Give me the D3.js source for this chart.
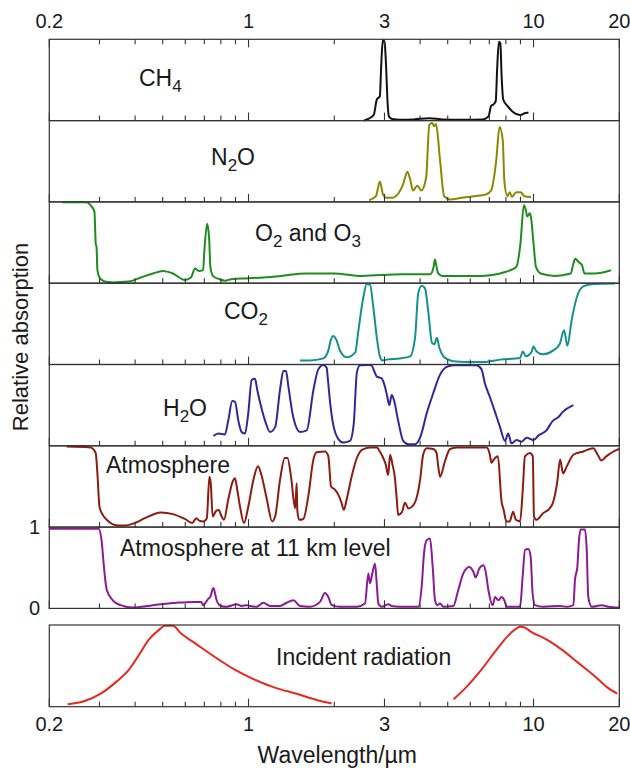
<!DOCTYPE html>
<html>
<head>
<meta charset="utf-8">
<script src="https://cdn.jsdelivr.net/npm/d3@7"></script>
<style>
body { margin: 0; background: #fff; }
text { font-family: "Liberation Sans", Arial, Helvetica, sans-serif; fill: #1a1a1a; }
</style>
</head>
<body>
<svg id="chart"></svg>
<script>
// wavelength (um) and relative absorption (0..1 inside each panel)
const ch4 = [[2.54,0],[2.75,0.07],[2.82,0.26],[2.89,0.30],[2.92,0.66],[2.96,0.99],[3.0,0.97],[3.04,0.66],[3.07,0.28],[3.11,0.05],[3.19,0.02],[3.4,0.01],[3.8,0.015],[4.31,0.03],[4.8,0.015],[5.6,0.01],[6.62,0.015],[6.95,0.05],[7.1,0.18],[7.24,0.2],[7.37,0.24],[7.46,0.66],[7.56,0.97],[7.65,0.95],[7.73,0.54],[7.83,0.26],[8.1,0.18],[8.6,0.09],[9.0,0.07],[9.3,0.09],[9.6,0.1]];

const n2o = [[2.65,0.02],[2.80,0.07],[2.89,0.25],[2.96,0.10],[3.04,0.05],[3.19,0.05],[3.35,0.10],[3.49,0.22],[3.61,0.37],[3.69,0.28],[3.78,0.14],[3.91,0.20],[4.04,0.14],[4.2,0.30],[4.31,0.95],[4.41,0.97],[4.48,0.93],[4.55,0.96],[4.7,0.51],[4.86,0.07],[5.1,0.03],[5.6,0.05],[6.2,0.07],[6.8,0.09],[7.1,0.14],[7.4,0.51],[7.6,0.92],[7.8,0.76],[7.9,0.26],[8.1,0.07],[8.25,0.12],[8.4,0.06],[8.7,0.12],[9.0,0.12],[9.3,0.07],[9.8,0.06]];

const o2o3 = [[0.222,0.995],[0.27,0.995],[0.279,0.96],[0.288,0.88],[0.291,0.49],[0.293,0.44],[0.295,0.16],[0.30,0.07],[0.313,0.02],[0.334,0.01],[0.38,0.02],[0.419,0.07],[0.462,0.12],[0.50,0.15],[0.543,0.12],[0.598,0.04],[0.628,0.07],[0.649,0.18],[0.67,0.15],[0.693,0.16],[0.70,0.40],[0.716,0.73],[0.727,0.57],[0.735,0.20],[0.75,0.09],[0.789,0.05],[0.829,0.03],[0.87,0.05],[1.0,0.06],[1.3,0.09],[1.59,0.12],[1.99,0.12],[2.5,0.09],[3.46,0.11],[4.34,0.11],[4.46,0.20],[4.51,0.29],[4.57,0.20],[4.63,0.12],[4.78,0.09],[6.6,0.09],[8.0,0.14],[8.7,0.20],[9.0,0.49],[9.25,0.96],[9.4,0.90],[9.5,0.82],[9.7,0.86],[9.8,0.81],[10.0,0.49],[10.2,0.20],[10.6,0.12],[11.9,0.09],[13.5,0.12],[13.8,0.24],[14.0,0.30],[14.4,0.26],[14.8,0.22],[15.1,0.12],[16.4,0.12],[18.7,0.16]];

const co2 = [[1.516,0.05],[1.643,0.05],[1.83,0.075],[1.905,0.17],[1.944,0.30],[1.98,0.35],[2.03,0.31],[2.095,0.17],[2.21,0.09],[2.37,0.15],[2.43,0.42],[2.53,0.83],[2.60,0.99],[2.67,0.98],[2.74,0.71],[2.82,0.33],[2.89,0.10],[2.95,0.05],[3.05,0.06],[3.40,0.075],[3.69,0.10],[3.84,0.33],[3.94,0.875],[4.05,0.97],[4.16,0.94],[4.28,0.63],[4.4,0.27],[4.49,0.25],[4.58,0.33],[4.67,0.21],[4.83,0.10],[5.03,0.06],[5.24,0.04],[5.83,0.03],[6.66,0.03],[7.63,0.06],[8.97,0.08],[9.17,0.16],[9.4,0.10],[9.83,0.15],[10.0,0.22],[10.25,0.16],[10.8,0.125],[11.7,0.17],[12.35,0.25],[12.8,0.42],[13.15,0.23],[13.6,0.54],[14.2,0.83],[14.95,0.96],[16.2,0.99],[19.3,0.995]];

const h2o = [[0.753,0.12],[0.784,0.15],[0.827,0.14],[0.849,0.31],[0.877,0.55],[0.897,0.54],[0.921,0.31],[0.946,0.17],[0.972,0.15],[0.998,0.40],[1.026,0.81],[1.054,0.825],[1.073,0.69],[1.097,0.54],[1.143,0.31],[1.19,0.17],[1.24,0.23],[1.29,0.69],[1.325,0.92],[1.354,0.92],[1.38,0.73],[1.436,0.35],[1.516,0.17],[1.6,0.19],[1.69,0.69],[1.757,0.94],[1.83,0.995],[1.88,0.96],[1.9,0.81],[1.93,0.56],[1.98,0.27],[2.07,0.08],[2.15,0.04],[2.27,0.06],[2.34,0.27],[2.4,0.90],[2.46,0.99],[2.63,0.995],[2.7,0.99],[2.76,0.92],[2.82,0.85],[2.93,0.83],[3.01,0.73],[3.07,0.60],[3.12,0.50],[3.18,0.625],[3.24,0.56],[3.35,0.31],[3.49,0.06],[3.63,0.02],[3.84,0.02],[4.0,0.10],[4.22,0.40],[4.45,0.65],[4.7,0.875],[4.96,0.97],[5.24,0.99],[6.31,0.99],[6.57,0.94],[6.75,0.77],[7.03,0.60],[7.32,0.42],[7.63,0.23],[7.94,0.06],[8.15,0.15],[8.37,0.03],[8.72,0.07],[9.09,0.05],[9.46,0.10],[10.0,0.07],[10.4,0.125],[11.1,0.19],[11.7,0.31],[12.2,0.35],[12.7,0.42],[13.8,0.50]];

const atmosphere = [[0.23,0.99],[0.279,0.98],[0.291,0.91],[0.295,0.66],[0.30,0.25],[0.308,0.15],[0.323,0.07],[0.35,0.02],[0.368,0.02],[0.399,0.05],[0.433,0.11],[0.493,0.18],[0.543,0.16],[0.598,0.10],[0.635,0.05],[0.656,0.11],[0.671,0.08],[0.694,0.07],[0.714,0.11],[0.729,0.62],[0.737,0.54],[0.749,0.13],[0.77,0.20],[0.786,0.21],[0.805,0.13],[0.82,0.09],[0.849,0.34],[0.88,0.56],[0.897,0.60],[0.913,0.46],[0.934,0.25],[0.964,0.05],[0.998,0.25],[1.04,0.58],[1.08,0.75],[1.11,0.64],[1.16,0.34],[1.21,0.07],[1.24,0.13],[1.29,0.58],[1.34,0.85],[1.37,0.85],[1.41,0.62],[1.457,0.23],[1.476,0.54],[1.483,0.21],[1.507,0.09],[1.557,0.10],[1.621,0.38],[1.689,0.83],[1.735,0.92],[1.855,0.93],[1.906,0.87],[1.948,0.50],[2.01,0.46],[2.065,0.40],[2.12,0.30],[2.16,0.21],[2.21,0.34],[2.30,0.62],[2.40,0.85],[2.5,0.95],[2.67,0.98],[2.82,0.98],[2.89,0.93],[2.97,0.85],[3.03,0.77],[3.09,0.64],[3.14,0.89],[3.2,0.77],[3.26,0.62],[3.31,0.36],[3.35,0.15],[3.45,0.18],[3.54,0.30],[3.64,0.23],[3.79,0.27],[3.89,0.36],[4.0,0.58],[4.1,0.89],[4.22,0.97],[4.45,0.96],[4.57,0.91],[4.63,0.75],[4.70,0.62],[4.89,0.81],[5.09,0.96],[5.36,0.98],[6.85,0.98],[7.03,0.89],[7.12,0.79],[7.25,0.83],[7.5,0.87],[7.72,0.32],[7.86,0.21],[8.03,0.07],[8.25,0.07],[8.48,0.19],[8.67,0.09],[8.97,0.07],[9.17,0.46],[9.33,0.87],[9.72,0.91],[9.94,0.87],[10.04,0.13],[10.25,0.09],[10.8,0.17],[11.4,0.23],[11.7,0.30],[12.1,0.54],[12.4,0.83],[12.7,0.66],[13.1,0.75],[13.8,0.89],[14.95,0.93],[16.2,0.97],[16.8,0.89],[17.3,0.82],[18.0,0.87],[19.6,0.95],[20,0.96]];

const atmosphere11km = [[0.2,0.98],[0.298,0.98],[0.305,0.84],[0.311,0.51],[0.318,0.23],[0.334,0.10],[0.356,0.04],[0.393,0.01],[0.462,0.04],[0.561,0.07],[0.639,0.08],[0.682,0.08],[0.694,0.04],[0.723,0.12],[0.734,0.14],[0.753,0.25],[0.773,0.10],[0.799,0.03],[0.838,0.02],[0.909,0.05],[0.946,0.03],[0.985,0.04],[1.012,0.03],[1.068,0.02],[1.127,0.07],[1.19,0.03],[1.29,0.03],[1.361,0.07],[1.436,0.10],[1.516,0.03],[1.643,0.02],[1.782,0.08],[1.855,0.19],[1.906,0.14],[1.958,0.04],[2.095,0.02],[2.396,0.02],[2.563,0.06],[2.633,0.43],[2.669,0.31],[2.727,0.45],[2.779,0.55],[2.817,0.31],[2.855,0.06],[2.933,0.02],[3.095,0.05],[3.18,0.03],[3.401,0.02],[3.944,0.02],[4.052,0.27],[4.129,0.68],[4.219,0.84],[4.334,0.86],[4.429,0.51],[4.513,0.10],[4.599,0.04],[4.698,0.06],[4.827,0.02],[5.233,0.03],[5.448,0.23],[5.672,0.43],[5.955,0.51],[6.151,0.45],[6.268,0.38],[6.454,0.49],[6.668,0.53],[6.795,0.45],[6.942,0.23],[7.193,0.04],[7.33,0.14],[7.53,0.10],[7.73,0.14],[7.90,0.10],[8.05,0.02],[8.97,0.02],[9.16,0.39],[9.34,0.72],[9.59,0.73],[9.77,0.64],[9.93,0.18],[10.12,0.04],[10.83,0.02],[12.39,0.03],[13.07,0.02],[13.8,0.04],[13.98,0.35],[14.25,0.51],[14.44,0.84],[14.64,0.97],[15.16,0.97],[15.37,0.72],[15.57,0.14],[16.0,0.02],[17.35,0.04],[18.31,0.02],[20,0.01]];

// incident radiation: solar band and terrestrial band
const incidentSun = [[0.232,0.03],[0.266,0.07],[0.303,0.16],[0.345,0.31],[0.380,0.45],[0.412,0.63],[0.447,0.82],[0.485,0.94],[0.509,0.99],[0.543,0.99],[0.579,0.90],[0.66,0.76],[0.776,0.59],[0.898,0.45],[1.023,0.35],[1.223,0.24],[1.486,0.155],[1.748,0.08],[1.958,0.04]];
const incidentEarth = [[5.24,0.09],[5.81,0.24],[6.62,0.47],[7.54,0.73],[8.31,0.90],[9.01,0.98],[9.31,0.97],[9.78,0.92],[11.13,0.82],[12.67,0.69],[14.43,0.53],[16.44,0.37],[18.1,0.24],[19.66,0.16]];

const tickLabels = [0.2, 1, 3, 10, 20];
const minorTicks = [0.3,0.4,0.5,0.6,0.7,0.8,0.9,2,4,5,6,7,8,9];

const panelNames = [["CH", "_4"], ["N", "_2", "O"], ["O", "_2", " and O", "_3"], ["CO", "_2"], ["H", "_2", "O"], ["Atmosphere"], ["Atmosphere at 11 km level"]];
const panelSeries = [[ch4], [n2o], [o2o3], [co2], [h2o], [atmosphere], [atmosphere11km]];
const panelColors = ["#111111", "#8a8800", "#1e8c1e", "#14918c", "#30289a", "#8b1c12", "#8c1a94"];

const width = 630, height = 768;
const plotLeft = 49.3, plotRight = 619.3;
const top0 = 39.3, panelH = 81.3;
const incTop = 625, incBottom = 706.7;

const svg = d3.select("#chart").attr("width", width).attr("height", height);

const x = d3.scaleLog().domain([0.2, 20]).range([plotLeft, plotRight]);

const line = d3.line()
  .x(d => x(d[0]))
  .curve(d3.curveMonotoneX);

function drawLabel(px, py, parts) {
  const t = svg.append("text").attr("x", px).attr("y", py).attr("font-size", 23);
  let shift = 0;
  parts.forEach(p => {
    const sub = p.startsWith("_");
    const target = sub ? 6 : 0;
    t.append("tspan")
      .attr("dy", target - shift)
      .attr("font-size", sub ? 17 : 23)
      .text(sub ? p.slice(1) : p);
    shift = target;
  });
}

function drawTicks(yPos, dir) {
  tickLabels.concat(minorTicks).forEach(v => {
    const len = tickLabels.includes(v) ? 8 : 5;
    svg.append("line")
      .attr("x1", x(v)).attr("x2", x(v))
      .attr("y1", yPos).attr("y2", yPos + dir * len)
      .attr("stroke", "#333").attr("stroke-width", 1.1);
  });
}

// label positions (start x, baseline y) for the stacked panels
const labelPos = [[139, 86], [211, 165], [255, 241], [224, 319], [163, 416], [106, 473], [120, 556]];

panelNames.forEach((name, i) => {
  const y0 = top0 + i * panelH, y1 = y0 + panelH;
  const y = d3.scaleLinear().domain([0, 1]).range([y1, y0]);
  panelSeries[i].forEach(s => {
    svg.append("path")
      .attr("d", line.y(d => y(d[1]))(s))
      .attr("fill", "none")
      .attr("stroke", panelColors[i])
      .attr("stroke-width", 2)
      .attr("stroke-linejoin", "round");
  });
  svg.append("rect")
    .attr("x", plotLeft).attr("y", y0)
    .attr("width", plotRight - plotLeft).attr("height", panelH)
    .attr("fill", "none").attr("stroke", "#333").attr("stroke-width", 1.2);
  drawTicks(y1, -1);
  drawLabel(labelPos[i][0], labelPos[i][1], name);
});
drawTicks(top0, 1);

// incident radiation panel
const yInc = d3.scaleLinear().domain([0, 1]).range([incBottom, incTop]);
[incidentSun, incidentEarth].forEach(s => {
  svg.append("path")
    .attr("d", line.y(d => yInc(d[1]))(s))
    .attr("fill", "none")
    .attr("stroke", "#e8281e")
    .attr("stroke-width", 2);
});
svg.append("rect")
  .attr("x", plotLeft).attr("y", incTop)
  .attr("width", plotRight - plotLeft).attr("height", incBottom - incTop)
  .attr("fill", "none").attr("stroke", "#333").attr("stroke-width", 1.2);
drawTicks(incBottom, -1);
drawLabel(276, 665, ["Incident radiation"]);

// axis tick labels, top and bottom
tickLabels.forEach(v => {
  [28, 731].forEach(ty => {
    svg.append("text")
      .attr("x", x(v)).attr("y", ty)
      .attr("text-anchor", "middle")
      .attr("font-size", 20)
      .text(v);
  });
});

// 0 and 1 on the left of the atmosphere-at-11-km panel
const y11 = d3.scaleLinear().domain([0, 1]).range([top0 + 7 * panelH, top0 + 6 * panelH]);
[0, 1].forEach(v => {
  svg.append("text")
    .attr("x", 40).attr("y", y11(v) + 7)
    .attr("text-anchor", "end")
    .attr("font-size", 20)
    .text(v);
});

svg.append("text")
  .attr("transform", "translate(28,337) rotate(-90)")
  .attr("text-anchor", "middle")
  .attr("font-size", 22)
  .text("Relative absorption");

svg.append("text")
  .attr("x", (plotLeft + plotRight) / 2 + 3).attr("y", 763)
  .attr("text-anchor", "middle")
  .attr("font-size", 23)
  .text("Wavelength/\u00b5m");
</script>
</body>
</html>
